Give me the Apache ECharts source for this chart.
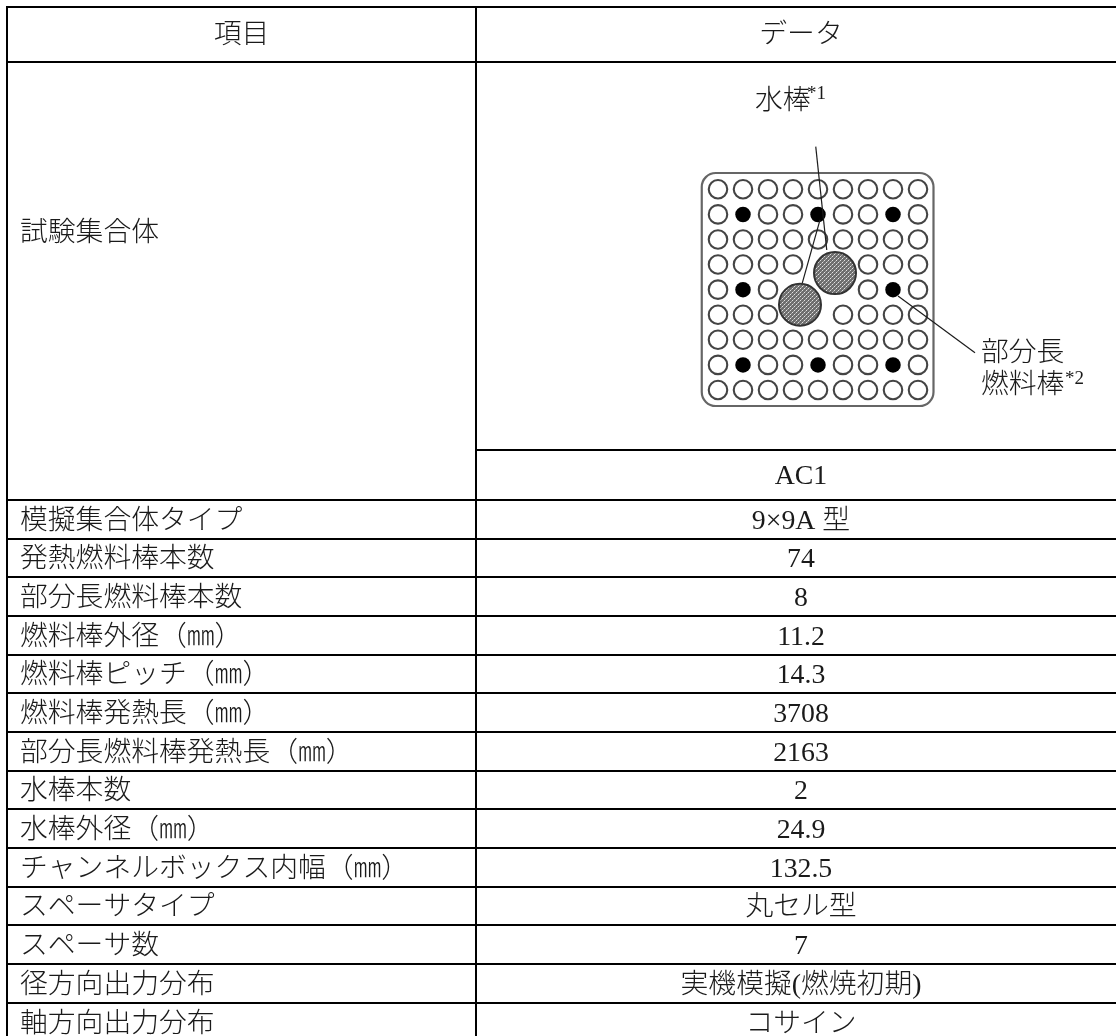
<!DOCTYPE html>
<html>
<head>
<meta charset="utf-8">
<style>html,body{margin:0;padding:0;background:#fff}#c{width:1116px;height:1036px}</style>
<script src="https://cdn.jsdelivr.net/npm/echarts@6/dist/echarts.min.js"></script>
</head>
<body>
<div id="c"></div>
<script>
const headerLabels = ['項目', 'データ'];
const specimenLabel = '試験集合体';
const bundleName = 'AC1';
const rowLabels = ['模擬集合体タイプ','発熱燃料棒本数','部分長燃料棒本数','燃料棒外径（㎜）','燃料棒ピッチ（㎜）','燃料棒発熱長（㎜）','部分長燃料棒発熱長（㎜）','水棒本数','水棒外径（㎜）','チャンネルボックス内幅（㎜）','スペーサタイプ','スペーサ数','径方向出力分布','軸方向出力分布'];
const rowValues = ['9×9A 型','74','8','11.2','14.3','3708','2163','2','24.9','132.5','丸セル型','7','実機模擬(燃焼初期)','コサイン'];
// table rules, in picture pixels
const ruleYs = [7,62,500,539,577,616,655,693,732,771,809,848,887,925,964,1003];
const ruleXs = [7,476];
const dataCellRuleY = 450;
// fuel lattice: o = heated rod, x = part-length rod, . = no rod
const rodLayout = ['ooooooooo','oxooxooxo','ooooooooo','oooo..ooo','oxo...oxo','ooo..oooo','ooooooooo','oxooxooxo','ooooooooo'];
const waterRods = [[4.68,3.34],[3.28,4.6]];
const waterRodRadius = 0.84;
const boxExtent = [-0.65,-0.65,8.62,8.64];
const leaderLines = [[3.91,-1.70,4.35,2.42],[4.08,1.22,3.37,3.74],[7.2,4.25,10.28,6.52]];

const CJK = '"Liberation Serif","Noto Sans CJK JP"';
const FS = 27.8;
const openRods = [], solidRods = [];
rodLayout.forEach((r,j)=>[...r].forEach((c,i)=>{ if(c==='o')openRods.push([i,j]); if(c==='x')solidRods.push([i,j]); }));

const rules = ruleYs.map(y=>[6,y,1116,y]).concat(ruleXs.map(x=>[x,6,x,1036]),[[476,dataCellRuleY,1116,dataCellRuleY]]);
const texts = [
  [241.5,36,headerLabels[0],'center',FS],[801,36,headerLabels[1],'center',FS],
  [20,234,specimenLabel,'left',FS],[801,477,bundleName,'center',FS],
  [755,102,'水棒','left',FS],[807,94,'*1','left',19],
  [981,353.5,'部分長','left',FS],[981,386,'燃料棒','left',FS],[1065,379,'*2','left',19]
];
rowLabels.forEach((t,i)=>{
  const y=(ruleYs[i+2]+(ruleYs[i+3]||1041.5))/2+2;
  texts.push([20,y,t,'left',FS]); texts.push([801,y,rowValues[i],'center',FS]);
});

// hatch tile for the water rods
const tile = document.createElement('canvas'); tile.width = tile.height = 4;
const tc = tile.getContext('2d');
tc.fillStyle = '#6e6e6e'; tc.fillRect(0,0,4,4);
tc.fillStyle = '#e2e2e2'; tc.fillRect(0,0,1,1); tc.fillRect(2,2,1,1);
tc.fillStyle = '#a8a8a8'; tc.fillRect(1,3,1,1); tc.fillRect(3,1,1,1);

const hiddenAxis = (g,min,max,inv)=>({type:'value',gridIndex:g,min,max,inverse:!!inv,show:false,scale:true});
const option = {
  animation:false,
  backgroundColor:'#fff',
  grid:[
    {left:0,top:0,width:1116,height:1036},
    {left:618,top:89,width:400,height:401.28}
  ],
  xAxis:[hiddenAxis(0,0,1116),hiddenAxis(1,-4,12)],
  yAxis:[hiddenAxis(0,0,1036,true),hiddenAxis(1,-4,12,true)],
  series:[
    {type:'custom',xAxisIndex:0,yAxisIndex:0,clip:false,silent:true,z:1,data:rules,
      renderItem:(p,api)=>{
        const a=api.coord([api.value(0),api.value(1)]),b=api.coord([api.value(2),api.value(3)]);
        return {type:'line',shape:{x1:a[0],y1:a[1],x2:b[0],y2:b[1]},style:{stroke:'#000',lineWidth:2,fill:null}};
      }},
    {type:'custom',xAxisIndex:1,yAxisIndex:1,clip:false,silent:true,z:2,data:[boxExtent],
      renderItem:(p,api)=>{
        const a=api.coord([api.value(0),api.value(1)]),b=api.coord([api.value(2),api.value(3)]);
        return {type:'rect',shape:{x:a[0],y:a[1],width:b[0]-a[0],height:b[1]-a[1],r:14},style:{stroke:'#666',lineWidth:2.2,fill:'#fff'}};
      }},
    {type:'scatter',xAxisIndex:1,yAxisIndex:1,silent:true,z:3,symbol:'circle',symbolSize:18.5,data:openRods,
      itemStyle:{color:'#fff',borderColor:'#444',borderWidth:2.1,opacity:1}},
    {type:'scatter',xAxisIndex:1,yAxisIndex:1,silent:true,z:3,symbol:'circle',symbolSize:15.5,data:solidRods,
      itemStyle:{color:'#000',opacity:1}},
    {type:'custom',xAxisIndex:1,yAxisIndex:1,clip:false,silent:true,z:4,data:leaderLines,
      renderItem:(p,api)=>{
        const a=api.coord([api.value(0),api.value(1)]),b=api.coord([api.value(2),api.value(3)]);
        return {type:'line',shape:{x1:a[0],y1:a[1],x2:b[0],y2:b[1]},style:{stroke:'#1c1c1c',lineWidth:1.2,fill:null}};
      }},
    {type:'custom',xAxisIndex:1,yAxisIndex:1,clip:false,silent:true,z:5,data:waterRods,
      renderItem:(p,api)=>{
        const c=api.coord([api.value(0),api.value(1)]),r=api.size([waterRodRadius,0])[0];
        return {type:'circle',shape:{cx:c[0],cy:c[1],r:r},style:{fill:{image:tile,repeat:'repeat'},stroke:'#333',lineWidth:2}};
      }},
    {type:'custom',xAxisIndex:0,yAxisIndex:0,clip:false,silent:true,z:6,data:texts.map((t,i)=>[t[0],t[1],i]),
      renderItem:(p,api)=>{
        const t=texts[api.value(2)],a=api.coord([api.value(0),api.value(1)]);
        return {type:'text',x:a[0],y:a[1],style:{text:t[2],fill:'#1a1a1a',fontFamily:CJK,fontSize:t[4],fontWeight:300,align:t[3],verticalAlign:'middle'}};
      }}
  ]
};
echarts.init(document.getElementById('c'),null,{renderer:'canvas'}).setOption(option);
</script>
</body>
</html>
